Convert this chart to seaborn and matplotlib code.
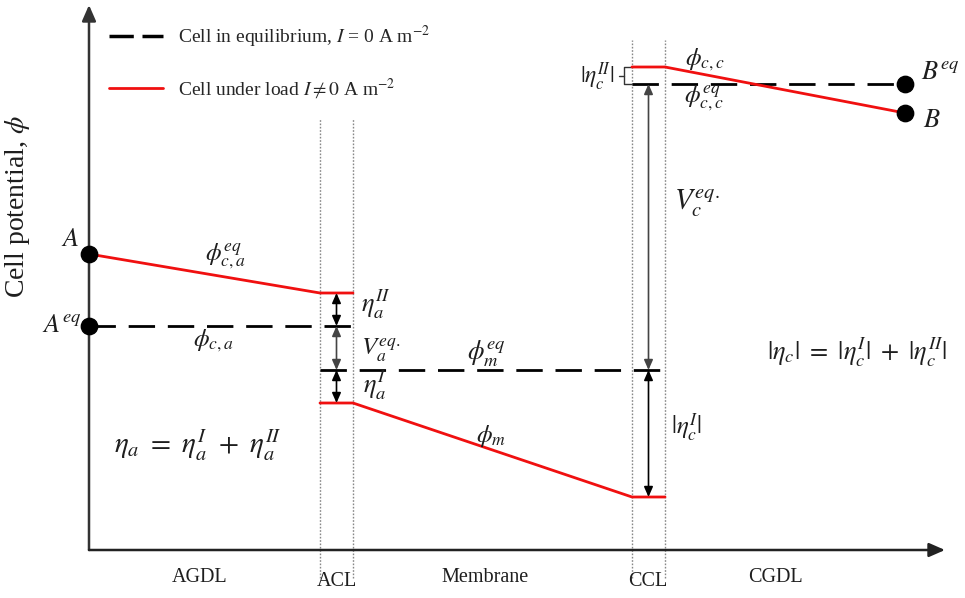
import matplotlib
matplotlib.use("Agg")
import matplotlib.pyplot as plt
from matplotlib.lines import Line2D
import seaborn as sns
import pandas as pd

# ---------------- data (arbitrary units) ----------------
# through-plane position of layer boundaries
layers = ["AGDL", "ACL", "Membrane", "CCL", "CGDL"]
x_bounds = [0.0, 23.1, 26.4, 54.3, 57.6, 81.6]

# potentials under load (red)
anode_x = [0.0, 23.1, 26.4]
anode_phi = [29.6, 25.7, 25.7]
mem_x = [23.1, 26.4, 54.3, 57.6]
mem_phi = [14.7, 14.7, 5.3, 5.3]
cath_x = [54.3, 57.6, 81.6]
cath_phi = [48.3, 48.3, 43.7]

# potentials in equilibrium (dashed black)
anode_eq_x = [0.0, 26.4]
anode_eq_phi = [22.4, 22.4]
mem_eq_x = [23.1, 57.6]
mem_eq_phi = [18.0, 18.0]
cath_eq_x = [54.3, 81.6]
cath_eq_phi = [46.6, 46.6]

# end points
pt_names = ["A", "Aeq", "Beq", "B"]
pt_x = [0.0, 0.0, 81.6, 81.6]
pt_phi = [29.6, 22.4, 46.6, 43.7]

# ---------------- styling ----------------
sns.set_theme(style="white")
plt.rcParams["font.family"] = ["Liberation Serif", "DejaVu Serif"]
plt.rcParams["mathtext.fontset"] = "stix"

fig = plt.figure(figsize=(9.65, 5.98), dpi=100)
ax = fig.add_axes([0, 0, 1, 1])
ax.set_xlim(-8.9, 87.6)
ax.set_ylim(-4.8, 55.0)
ax.axis("off")


def P(px, py):
    """pixel position -> data position (layout helper)"""
    return (px - 89) / 10.0, (550 - py) / 10.0


RED = "#f01010"
DASH = (0, (9.5, 4.6))
LW_R = 2.0
LW_D = 2.0
TXT = "#1e1e1e"

# layer boundaries (dotted)
for i, xb in enumerate(x_bounds[1:5]):
    top = 43.2 if i < 2 else 51.0
    ax.plot([xb, xb], [-2.8, top], color="#888888", ls=(0, (1.2, 1.2)), lw=1.0, zorder=1)

# axes with arrows
ax.annotate("", xy=(0, 54.5), xytext=(0, 0), arrowprops=dict(arrowstyle="-|>,head_length=0.8,head_width=0.35", color="#333333", lw=1.8, shrinkA=0, shrinkB=0))
ax.annotate("", xy=(85.6, 0), xytext=(0, 0), arrowprops=dict(arrowstyle="-|>,head_length=0.8,head_width=0.35", color="#222222", lw=1.8, shrinkA=0, shrinkB=0))

# equilibrium lines
for xs, ys in [(anode_eq_x, anode_eq_phi), (mem_eq_x, mem_eq_phi), (cath_eq_x, cath_eq_phi)]:
    sns.lineplot(x=xs, y=ys, ax=ax, color="black", lw=LW_D, sort=False, estimator=None, linestyle=DASH, zorder=2)

# under-load lines
for xs, ys in [(anode_x, anode_phi), (mem_x, mem_phi), (cath_x, cath_phi)]:
    sns.lineplot(x=xs, y=ys, ax=ax, color=RED, lw=LW_R, sort=False, estimator=None, zorder=3)

# end points
sns.scatterplot(x=pt_x, y=pt_phi, ax=ax, color="black", s=140, edgecolor="black", zorder=5, clip_on=False)

# double arrows
acl_mid = (x_bounds[1] + x_bounds[2]) / 2
ccl_mid = (x_bounds[3] + x_bounds[4]) / 2
astyle = dict(arrowstyle="<|-|>,head_length=0.5,head_width=0.22", color="black", lw=1.2, shrinkA=0, shrinkB=0)
ax.annotate("", xy=(acl_mid, anode_phi[-1]), xytext=(acl_mid, anode_eq_phi[0]), arrowprops=astyle)
ax.annotate("", xy=(acl_mid, anode_eq_phi[0]), xytext=(acl_mid, mem_eq_phi[0]), arrowprops=dict(astyle, color="#444444"))
ax.annotate("", xy=(acl_mid, mem_eq_phi[0]), xytext=(acl_mid, mem_phi[0]), arrowprops=astyle)
ax.annotate("", xy=(ccl_mid, cath_eq_phi[0]), xytext=(ccl_mid, mem_eq_phi[0]), arrowprops=dict(astyle, color="#444444"))
ax.annotate("", xy=(ccl_mid, mem_eq_phi[0]), xytext=(ccl_mid, mem_phi[-1]), arrowprops=astyle)

# small bracket for |eta_c^II|
bx = x_bounds[3] - 0.8
ax.plot([x_bounds[3], bx, bx, x_bounds[3]], [cath_phi[0], cath_phi[0], cath_eq_phi[0], cath_eq_phi[0]], color="#333333", lw=1.0)
ax.plot([bx - 0.5, bx], [(cath_phi[0] + cath_eq_phi[0]) / 2] * 2, color="#333333", lw=1.0)

# layer labels
lab_px = [200, 337, 485, 648, 775]
lab_py = [578, 581, 578, 581, 578]
for name, px, py in zip(layers, lab_px, lab_py):
    ax.text(*P(px, py), name, ha="center", va="center", fontsize=14.5, color=TXT)

# y label
ax.text(*P(18, 207), r"Cell potential, $\phi$", rotation=90, ha="center", va="center", fontsize=20, color=TXT)

txt = [
    (70, 240, r"$A$", 19),
    (62, 326, r"$A^{eq}$", 19),
    (225, 256, r"$\phi_{c,a}^{eq}$", 18),
    (213, 341, r"$\phi_{c,a}$", 18),
    (376, 304, r"$\eta_a^{II}$", 19),
    (381, 350, r"$V_a^{eq.}$", 18),
    (375, 385, r"$\eta_a^{I}$", 19),
    (486, 354, r"$\phi_m^{eq}$", 19),
    (491, 436, r"$\phi_m$", 18),
    (686, 428, r"$|\eta_c^{I}|$", 18),
    (697, 203, r"$V_c^{eq.}$", 21),
    (857, 352, r"$|\eta_c|\ =\ |\eta_c^{I}|\ +\ |\eta_c^{II}|$", 19),
    (198, 445, r"$\eta_a\ =\ \eta_a^{I}\ +\ \eta_a^{II}$", 21),
    (705, 60, r"$\phi_{c,c}$", 18),
    (704, 98, r"$\phi_{c,c}^{eq}$", 18),
    (940, 73, r"$B^{eq}$", 19),
    (932, 121, r"$B$", 19),
    (597, 77, r"$|\eta_c^{II}|$", 17),
]
for px, py, s, fs in txt:
    ax.text(*P(px, py), s, ha="center", va="center", fontsize=fs, color=TXT)

# legend
handles = [
    Line2D([], [], color="black", lw=LW_D + 0.5, linestyle=(0, (7, 2.5))),
    Line2D([], [], color=RED, lw=LW_R),
]
labels = [r"Cell in equilibrium, $I$ = 0 A m$^{-2}$", r"Cell under load $I \neq 0$ A m$^{-2}$"]
ax.legend(handles, labels, loc="upper left", bbox_to_anchor=(109 / 965, 1 - 24 / 598),
          frameon=False, fontsize=14, handlelength=2.8, handletextpad=0.75, labelspacing=1.35,
          borderaxespad=0, borderpad=0)

fig.savefig("out.png", dpi=100)
